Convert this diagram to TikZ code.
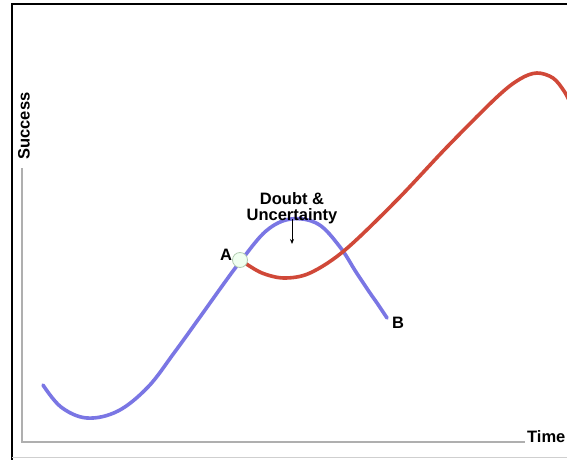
\documentclass[tikz,border=0pt]{standalone}
\usepackage{fontspec}
\setmainfont{Liberation Sans}
\usetikzlibrary{arrows.meta}
\definecolor{curveblue}{RGB}{122,118,228}
\definecolor{curvered}{RGB}{208,72,56}
\definecolor{axisgrey}{RGB}{175,175,175}
\begin{document}
\begin{tikzpicture}[x=1pt,y=-1pt,
  lbl/.style={font=\fontsize{16.5}{18}\selectfont\bfseries, inner sep=0pt},
  axisline/.style={draw=axisgrey, line width=2pt},
  curve/.style={line width=3.6pt, line cap=round, line join=round}]
\useasboundingbox (0,0) rectangle (567,460);
\fill[white] (0,0) rectangle (567,460);
% frame
\draw[black, line width=2pt] (12,470) -- (12,4) -- (580,4);
\draw[axisgrey!60, line width=1pt] (12,457) -- (580,457);
% axes
\coordinate (origin) at (22,442);
\coordinate (ytop) at (22,168);
\coordinate (xend) at (525,442);
\draw[axisline] (ytop) -- (origin) -- (xend);
\node[lbl, rotate=90] (success) at (24,126) {Success};
\node[lbl, anchor=south west] (time) at (527,443) {Time};
% curves
\draw[curve, curveblue] plot[smooth, tension=0.6] coordinates {
 (43,385) (61,407) (87,418) (118,411) (148,387) (174,353) (200,317) (225,282) (240,262)
 (266,231) (291,219) (318,224) (340,247) (356,272) (370,293) (377,303) (387,318)};
\draw[curve, curvered] plot[smooth, tension=0.55] coordinates {
 (245,263) (262,273) (284,278) (310,273) (345,250) (397,200) (447,147)
 (497,97) (520,79) (537,73) (553,78) (564,91) (572,106)};
% point A
\node[circle, draw=green!20!gray!50, fill=green!6, line width=0.8pt, minimum size=15pt, inner sep=0pt] (ptA) at (240,260) {};
\node[lbl] (labA) at (226,255) {A};
\node[lbl] (labB) at (398,323) {B};
% doubt
\node[lbl] (doubt) at (292,199) {Doubt \&};
\node[lbl] (unc) at (292,216) {Uncertainty};
\coordinate (arrowend) at (292,244);
\draw[-{Stealth[length=5pt,width=4pt]}, line width=0.8pt] (unc.south) ++(0,-5) -- (arrowend);
\end{tikzpicture}
\end{document}
